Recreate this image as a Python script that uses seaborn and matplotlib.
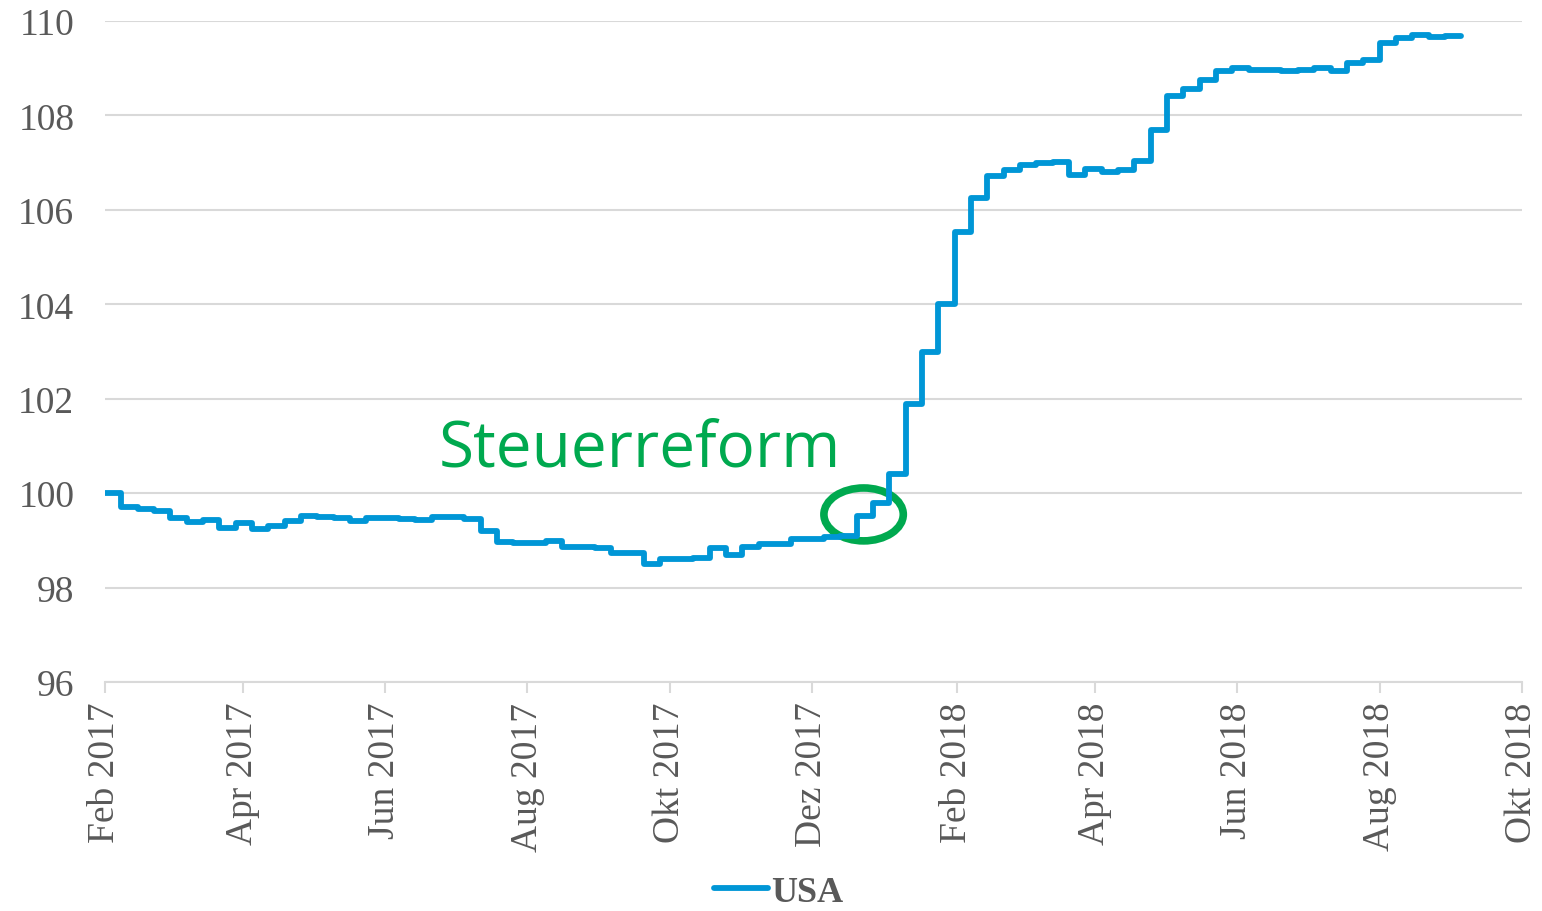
import pandas as pd
import seaborn as sns
import matplotlib.pyplot as plt
import matplotlib.dates as mdates
from matplotlib.patches import Ellipse

# weekly index values, USA (start Feb 2017 = 100)
usa = [100.00, 99.71, 99.66, 99.63, 99.47, 99.39, 99.43, 99.27, 99.36, 99.25,
       99.31, 99.41, 99.51, 99.49, 99.47, 99.41, 99.48, 99.48, 99.46, 99.43,
       99.50, 99.50, 99.45, 99.20, 98.96, 98.95, 98.94, 98.99, 98.86, 98.87,
       98.84, 98.74, 98.73, 98.51, 98.60, 98.61, 98.62, 98.84, 98.69, 98.85,
       98.92, 98.93, 99.04, 99.03, 99.08, 99.10, 99.52, 99.79, 100.40, 101.89,
       102.99, 104.00, 105.52, 106.26, 106.72, 106.85, 106.95, 106.99, 107.01, 106.74,
       106.87, 106.80, 106.85, 107.04, 107.68, 108.42, 108.56, 108.74, 108.93, 109.00,
       108.96, 108.96, 108.93, 108.96, 109.01, 108.93, 109.10, 109.17, 109.53, 109.64,
       109.70, 109.65, 109.68, 109.68]
dates = pd.date_range('2017-02-01', periods=len(usa), freq='7D')

tick_dates = pd.date_range('2017-02-01', '2018-10-01', freq='2MS')
tick_labels = ['Feb 2017', 'Apr 2017', 'Jun 2017', 'Aug 2017', 'Okt 2017', 'Dez 2017',
               'Feb 2018', 'Apr 2018', 'Jun 2018', 'Aug 2018', 'Okt 2018']
y_ticks = [96, 98, 100, 102, 104, 106, 108, 110]

df = pd.DataFrame({'Datum': dates, 'USA': usa})

sns.set_theme(style="white")
plt.rcParams['font.family'] = ['Liberation Serif', 'DejaVu Serif']

fig = plt.figure(figsize=(15.42, 9.12), dpi=100)
ax = fig.add_axes([0.068, 0.251, 0.919, 0.725])

sns.lineplot(data=df, x='Datum', y='USA', ax=ax, color='#0096D6', linewidth=4.2,
             drawstyle='steps-post', solid_capstyle='round', solid_joinstyle='round',
             label='USA', legend=False)

ax.set_xlim(pd.Timestamp('2017-02-01'), pd.Timestamp('2018-10-01'))
ax.set_ylim(96, 110)
ax.set_yticks(y_ticks)
ax.set_xticks(tick_dates)
ax.set_xticklabels(tick_labels, rotation=90)
ax.grid(axis='y', color='#D9D9D9', linewidth=1.5)
ax.set_axisbelow(True)
for s in ['left', 'right', 'top']:
    ax.spines[s].set_visible(False)
ax.spines['bottom'].set_color('#D9D9D9')
ax.spines['bottom'].set_linewidth(1.5)
ax.tick_params(axis='x', which='major', bottom=True, length=8, width=1.5, color='#D9D9D9',
               labelsize=27, labelcolor='#595959', pad=6)
ax.tick_params(axis='y', length=0, labelsize=27, labelcolor='#595959', pad=22)
ax.set_xlabel('')
ax.set_ylabel('')

# annotation
ax.text(pd.Timestamp('2017-06-24'), 100.59, 'Steuerreform', color='#00A94F', fontsize=46,
        family=['Open Sans', 'DejaVu Sans'], weight='medium', ha='left', va='baseline')
cx = mdates.date2num(pd.Timestamp('2017-12-23'))
ax.add_patch(Ellipse((cx, 99.55), width=34, height=1.12, fill=False,
                     edgecolor='#00A94F', linewidth=5.5))

handles, labels = ax.get_legend_handles_labels()
leg = fig.legend(handles, labels, loc='lower center', bbox_to_anchor=(0.505, -0.033),
                 frameon=False, handlelength=1.5, handletextpad=0.1,
                 prop={'family': 'Liberation Serif', 'weight': 'bold', 'size': 26})
for t in leg.get_texts():
    t.set_color('#595959')

fig.savefig('out.png', dpi=100)
